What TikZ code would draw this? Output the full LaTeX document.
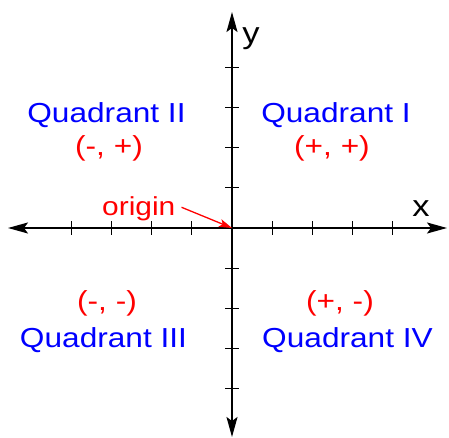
\documentclass[tikz,border=0pt]{standalone}
\usepackage{fontspec}
\setmainfont{Liberation Sans}[FakeStretch=1.15]
\usetikzlibrary{arrows.meta}

\begin{document}
\begin{tikzpicture}[x=1pt,y=-1pt,
  axis/.style={line width=1.6pt,-{Stealth[length=20pt,width=11pt,inset=4pt]}},
  tickmark/.style={line width=1.3pt},
  quad/.style={text=blue,font=\fontsize{27.5}{30}\selectfont,anchor=base,inner sep=0pt},
  signs/.style={text=red,font=\fontsize{27.5}{30}\selectfont,anchor=base,inner sep=0pt}]
\useasboundingbox (0,0) rectangle (449,438);

% axes
\coordinate (O) at (232,228);
\coordinate (xend) at (447,228);
\coordinate (xbeg) at (8,228);
\coordinate (yend) at (232,12);
\coordinate (ybeg) at (232,437);
\draw[axis] (O) -- (xend);
\draw[axis] (O) -- (xbeg);
\draw[axis] (O) -- (yend);
\draw[axis] (O) -- (ybeg);

% ticks
\foreach \k in {1,...,4}{
  \draw[tickmark] (232+40.2*\k,221) -- (232+40.2*\k,235);
  \draw[tickmark] (232-40.2*\k,221) -- (232-40.2*\k,235);
  \draw[tickmark] (225,228+40.2*\k) -- (239,228+40.2*\k);
  \draw[tickmark] (225,228-40.2*\k) -- (239,228-40.2*\k);
}

% axis labels
\node[font=\fontsize{30}{30}\selectfont,anchor=base,inner sep=0pt] (xlab) at (421,216) {x};
\node[font=\fontsize{30}{30}\selectfont,anchor=base,inner sep=0pt] (ylab) at (251,44) {y};

% quadrants
\node[quad] (q1) at (336,123) {Quadrant I};
\node[signs] (s1) at (332,156) {(+, +)};
\node[quad] (q2) at (106.5,123) {Quadrant II};
\node[signs] (s2) at (109,156) {(-, +)};
\node[signs] (s3) at (107,310) {(-, -)};
\node[quad] (q3) at (103.5,347) {Quadrant III};
\node[signs] (s4) at (340,310) {(+, -)};
\node[quad] (q4) at (347.5,347) {Quadrant IV};

% origin
\node[text=red,font=\fontsize{26}{28}\selectfont,anchor=base west,inner sep=0pt] (orig) at (102,215) {origin};
\draw[red,line width=1.3pt,-{Stealth[length=13pt,width=8pt,inset=3pt]}] ([xshift=6pt,yshift=1pt]orig.east) -- (O);
\end{tikzpicture}
\end{document}
